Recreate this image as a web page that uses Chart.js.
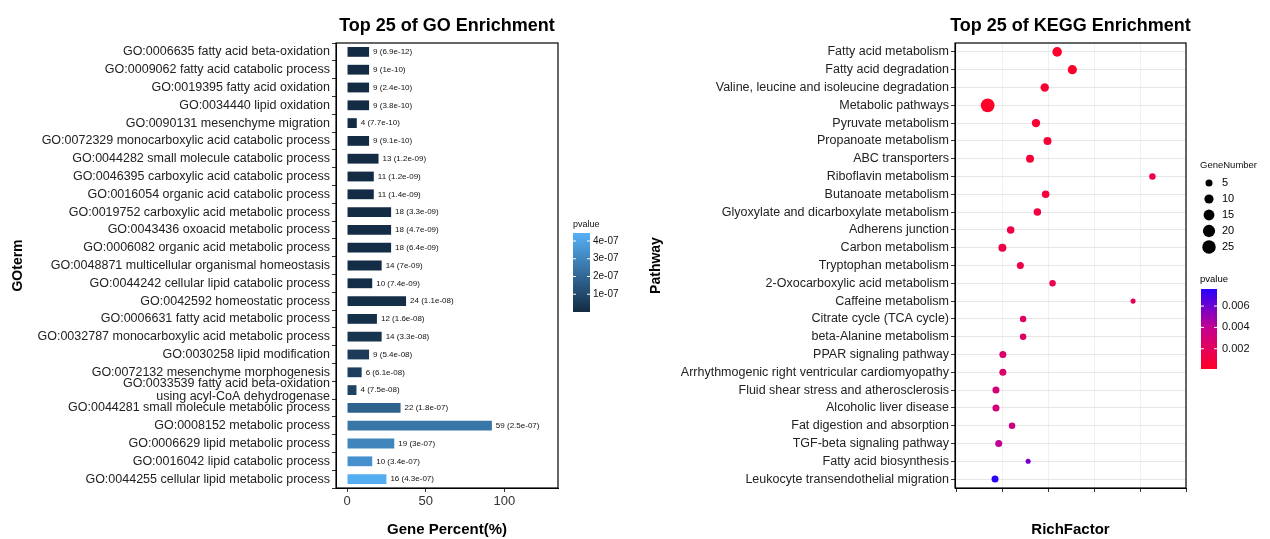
<!DOCTYPE html>
<html>
<head>
<meta charset="utf-8">
<script src="https://cdn.jsdelivr.net/npm/chart.js@4.4.1/dist/chart.umd.min.js"></script>
<style>
  body { margin: 0; background: #fff; }
  #go_wrap { position: absolute; left: 0; top: 0; width: 640px; height: 539px; }
  #kegg_wrap { position: absolute; left: 640px; top: 0; width: 630px; height: 539px; }
</style>
</head>
<body>
<div id="go_wrap"><canvas id="go_chart"></canvas></div>
<div id="kegg_wrap"><canvas id="kegg_chart"></canvas></div>
<script>
// ---- GO data ----
const go_terms = [
  "GO:0006635 fatty acid beta-oxidation",
  "GO:0009062 fatty acid catabolic process",
  "GO:0019395 fatty acid oxidation",
  "GO:0034440 lipid oxidation",
  "GO:0090131 mesenchyme migration",
  "GO:0072329 monocarboxylic acid catabolic process",
  "GO:0044282 small molecule catabolic process",
  "GO:0046395 carboxylic acid catabolic process",
  "GO:0016054 organic acid catabolic process",
  "GO:0019752 carboxylic acid metabolic process",
  "GO:0043436 oxoacid metabolic process",
  "GO:0006082 organic acid metabolic process",
  "GO:0048871 multicellular organismal homeostasis",
  "GO:0044242 cellular lipid catabolic process",
  "GO:0042592 homeostatic process",
  "GO:0006631 fatty acid metabolic process",
  "GO:0032787 monocarboxylic acid metabolic process",
  "GO:0030258 lipid modification",
  "GO:0072132 mesenchyme morphogenesis",
  ["GO:0033539 fatty acid beta-oxidation", "using acyl-CoA dehydrogenase"],
  "GO:0044281 small molecule metabolic process",
  "GO:0008152 metabolic process",
  "GO:0006629 lipid metabolic process",
  "GO:0016042 lipid catabolic process",
  "GO:0044255 cellular lipid metabolic process"
];
const go_percent = [14, 14, 14, 14, 6.2, 14, 20, 17, 17, 28, 28, 28, 22, 16, 37.5, 19, 22, 14, 9.3, 6, 34, 92, 30, 16, 25];
const go_genes = [9, 9, 9, 9, 4, 9, 13, 11, 11, 18, 18, 18, 14, 10, 24, 12, 14, 9, 6, 4, 22, 59, 19, 10, 16];
const go_pvalue_text = ["6.9e-12", "1e-10", "2.4e-10", "3.8e-10", "7.7e-10", "9.1e-10", "1.2e-09", "1.2e-09", "1.4e-09",
  "3.3e-09", "4.7e-09", "6.4e-09", "7e-09", "7.4e-09", "1.1e-08", "1.6e-08", "3.3e-08", "5.4e-08", "6.1e-08", "7.5e-08",
  "1.8e-07", "2.5e-07", "3e-07", "3.4e-07", "4.3e-07"];
const go_pvalue = go_pvalue_text.map(Number);
const go_bar_ticks = ["4e-07", "3e-07", "2e-07", "1e-07"];

// ---- KEGG data ----
const kegg_pathways = [
  "Fatty acid metabolism", "Fatty acid degradation", "Valine, leucine and isoleucine degradation",
  "Metabolic pathways", "Pyruvate metabolism", "Propanoate metabolism", "ABC transporters",
  "Riboflavin metabolism", "Butanoate metabolism", "Glyoxylate and dicarboxylate metabolism",
  "Adherens junction", "Carbon metabolism", "Tryptophan metabolism", "2-Oxocarboxylic acid metabolism",
  "Caffeine metabolism", "Citrate cycle (TCA cycle)", "beta-Alanine metabolism", "PPAR signaling pathway",
  "Arrhythmogenic right ventricular cardiomyopathy", "Fluid shear stress and atherosclerosis",
  "Alcoholic liver disease", "Fat digestion and absorption", "TGF-beta signaling pathway",
  "Fatty acid biosynthesis", "Leukocyte transendothelial migration"
];
const kegg_rich = [0.168, 0.201, 0.141, 0.017, 0.122, 0.147, 0.109, 0.375, 0.143, 0.125, 0.067, 0.049, 0.088,
  0.158, 0.333, 0.094, 0.094, 0.05, 0.05, 0.035, 0.035, 0.07, 0.041, 0.105, 0.033];
const kegg_genes = [11, 10, 8, 26, 8, 7, 7, 4, 6, 6, 6, 7, 5, 4, 2, 4, 4, 5, 5, 5, 5, 4, 5, 2, 5];
const kegg_pvalue = [0.0003, 0.0003, 0.0005, 0.0001, 0.0006, 0.0007, 0.0007, 0.0012, 0.0009, 0.001, 0.0011,
  0.0012, 0.0013, 0.0015, 0.0018, 0.0022, 0.0022, 0.0026, 0.0027, 0.003, 0.0031, 0.0035, 0.004, 0.0058, 0.0075];
const gene_legend = [5, 10, 15, 20, 25];
const pvalue_legend = [0.006, 0.004, 0.002];

const FONT = "'Liberation Sans', Arial, sans-serif";

function mix(c1, c2, t) {
  const r = Math.round(c1[0] + (c2[0] - c1[0]) * t);
  const g = Math.round(c1[1] + (c2[1] - c1[1]) * t);
  const b = Math.round(c1[2] + (c2[2] - c1[2]) * t);
  return `rgb(${r},${g},${b})`;
}
const go_dark = [19, 43, 67], go_light = [86, 177, 247];
const go_pmin = 0, go_pmax = 4.45e-7;
function go_color(p) { return mix(go_dark, go_light, (p - go_pmin) / (go_pmax - go_pmin)); }

const kegg_low = [255, 0, 40], kegg_mid = [200, 0, 140], kegg_high = [40, 0, 255];
const kegg_pmin = 0.0001, kegg_pmax = 0.0076;
function kegg_color(p) {
  const t = Math.min(1, Math.max(0, (p - kegg_pmin) / (kegg_pmax - kegg_pmin)));
  return t < 0.5 ? mix(kegg_low, kegg_mid, t * 2) : mix(kegg_mid, kegg_high, (t - 0.5) * 2);
}
function bubble_r(n) { return 0.9 + Math.sqrt(n) * 1.17; }

// draws the title centered over the plot area plus a black frame
function frame_plugin(title) {
  return {
    id: 'frame',
    afterDraw(chart) {
      const { ctx, chartArea: a } = chart;
      ctx.save();
      ctx.strokeStyle = '#000';
      ctx.lineWidth = 1.2;
      ctx.strokeRect(a.left, a.top, a.right - a.left, a.bottom - a.top);
      ctx.fillStyle = '#000';
      ctx.font = `bold 18px ${FONT}`;
      ctx.textAlign = 'center';
      ctx.textBaseline = 'middle';
      ctx.fillText(title, (a.left + a.right) / 2, 26);
      ctx.restore();
    }
  };
}

// ---- GO chart ----
const go_extra = {
  id: 'go_extra',
  afterDatasetsDraw(chart) {
    const { ctx } = chart;
    const meta = chart.getDatasetMeta(0);
    ctx.save();
    ctx.font = `8px ${FONT}`;
    ctx.fillStyle = '#111';
    ctx.textBaseline = 'middle';
    meta.data.forEach((bar, i) => {
      ctx.fillText(`${go_genes[i]} (${go_pvalue_text[i]})`, bar.x + 4, bar.y);
    });
    // colour bar
    const x0 = 573, y0 = 233, w = 17, h = 79;
    const grad = ctx.createLinearGradient(0, y0 + h, 0, y0);
    grad.addColorStop(0, go_color(go_pmin));
    grad.addColorStop(1, go_color(go_pmax));
    ctx.fillStyle = grad;
    ctx.fillRect(x0, y0, w, h);
    ctx.fillStyle = '#111';
    ctx.font = `9px ${FONT}`;
    ctx.fillText('pvalue', x0, y0 - 8);
    ctx.font = `10px ${FONT}`;
    go_bar_ticks.forEach(t => {
      const y = y0 + h - (Number(t) - go_pmin) / (go_pmax - go_pmin) * h;
      ctx.strokeStyle = '#fff';
      ctx.beginPath(); ctx.moveTo(x0, y); ctx.lineTo(x0 + 3, y); ctx.moveTo(x0 + w - 3, y); ctx.lineTo(x0 + w, y); ctx.stroke();
      ctx.fillText(t, x0 + w + 3, y);
    });
    ctx.restore();
  }
};

new Chart(document.getElementById('go_chart'), {
  type: 'bar',
  data: {
    labels: go_terms,
    datasets: [{
      data: go_percent,
      backgroundColor: go_pvalue.map(go_color),
      barPercentage: 0.55,
      categoryPercentage: 1
    }]
  },
  options: {
    indexAxis: 'y',
    responsive: true,
    maintainAspectRatio: false,
    animation: false,
    layout: { padding: { left: 8, right: 82, top: 43, bottom: 0 } },
    plugins: { legend: { display: false }, tooltip: { enabled: false } },
    scales: {
      x: {
        min: -7, max: 134,
        afterBuildTicks(axis) { axis.ticks = [0, 50, 100].map(v => ({ value: v })); },
        afterFit(axis) { axis.height = 51; },
        grid: { display: true, drawOnChartArea: false, drawTicks: true, tickLength: 4, color: '#333' },
        border: { display: true, color: '#000' },
        ticks: { color: '#333', font: { family: FONT, size: 13 }, padding: 2 },
        title: { display: true, text: 'Gene Percent(%)', color: '#000', font: { family: FONT, size: 15, weight: 'bold' }, padding: 0 }
      },
      y: {
        afterFit(axis) { axis.width = 328; },
        grid: { display: true, drawOnChartArea: false, drawTicks: true, tickLength: 4, color: '#333' },
        border: { display: true, color: '#000' },
        ticks: { color: '#222', font: { family: FONT, size: 12.5, lineHeight: 1.0 }, padding: 2, autoSkip: false },
        title: { display: true, text: 'GOterm', color: '#000', font: { family: FONT, size: 14, weight: 'bold' }, padding: 2 }
      }
    }
  },
  plugins: [frame_plugin('Top 25 of GO Enrichment'), go_extra]
});

// ---- KEGG chart ----
const kegg_extra = {
  id: 'kegg_extra',
  afterDraw(chart) {
    const { ctx } = chart;
    ctx.save();
    ctx.fillStyle = '#111';
    ctx.textBaseline = 'middle';
    ctx.font = `9.5px ${FONT}`;
    const lx = 1202 - 640;
    ctx.fillText('GeneNumber', 1200 - 640, 165);
    gene_legend.forEach((n, i) => {
      const y = 183 + i * 16;
      ctx.fillStyle = '#000';
      ctx.beginPath(); ctx.arc(lx + 7, y, bubble_r(n), 0, Math.PI * 2); ctx.fill();
      ctx.font = `11px ${FONT}`;
      ctx.fillText(String(n), lx + 20, y);
    });
    const x0 = 1201 - 640, y0 = 289, w = 16, h = 80;
    ctx.font = `9.5px ${FONT}`;
    ctx.fillText('pvalue', 1200 - 640, 279);
    const grad = ctx.createLinearGradient(0, y0 + h, 0, y0);
    for (let s = 0; s <= 10; s++) grad.addColorStop(s / 10, kegg_color(kegg_pmin + (kegg_pmax - kegg_pmin) * s / 10));
    ctx.fillStyle = grad;
    ctx.fillRect(x0, y0, w, h);
    ctx.font = `11px ${FONT}`;
    ctx.fillStyle = '#111';
    pvalue_legend.forEach(p => {
      const y = y0 + h - (p - kegg_pmin) / (kegg_pmax - kegg_pmin) * h;
      ctx.strokeStyle = '#fff';
      ctx.beginPath(); ctx.moveTo(x0, y); ctx.lineTo(x0 + 3, y); ctx.moveTo(x0 + w - 3, y); ctx.lineTo(x0 + w, y); ctx.stroke();
      ctx.fillText(p.toFixed(3), x0 + w + 5, y);
    });
    ctx.restore();
  }
};

new Chart(document.getElementById('kegg_chart'), {
  type: 'scatter',
  data: {
    labels: kegg_pathways,
    datasets: [{
      data: kegg_pathways.map((p, i) => ({ x: kegg_rich[i], y: p })),
      backgroundColor: kegg_pvalue.map(kegg_color),
      borderWidth: 0,
      pointRadius: kegg_genes.map(bubble_r)
    }]
  },
  options: {
    responsive: true,
    maintainAspectRatio: false,
    animation: false,
    layout: { padding: { left: 6, right: 84, top: 43, bottom: 0 } },
    plugins: { legend: { display: false }, tooltip: { enabled: false } },
    scales: {
      x: {
        type: 'linear',
        min: -0.054, max: 0.448,
        afterBuildTicks(axis) {
          const t = [];
          for (let k = -1; k <= 9; k++) t.push({ value: k * 0.05 });
          axis.ticks = t;
        },
        afterFit(axis) { axis.height = 51; },
        grid: {
          color: ctx => (ctx.tick && Math.round(ctx.tick.value * 100) % 10 !== 0) ? '#f0f0f0' : '#e3e3e3',
          tickLength: 4, tickColor: '#333'
        },
        border: { display: true, color: '#000' },
        ticks: {
          color: '#333', font: { family: FONT, size: 13 }, padding: 2,
          callback(v) { return Math.round(v * 100) % 10 === 0 && v >= 0 ? v.toFixed(1) : ''; }
        },
        title: { display: true, text: 'RichFactor', color: '#000', font: { family: FONT, size: 15, weight: 'bold' }, padding: 0 }
      },
      y: {
        type: 'category',
        offset: true,
        afterFit(axis) { axis.width = 309; },
        grid: { color: '#e6e6e6', tickLength: 4, tickColor: '#333', offset: false },
        border: { display: true, color: '#000' },
        ticks: { color: '#222', font: { family: FONT, size: 12.5 }, padding: 2, autoSkip: false },
        title: { display: true, text: 'Pathway', color: '#000', font: { family: FONT, size: 14, weight: 'bold' }, padding: 2 }
      }
    }
  },
  plugins: [frame_plugin('Top 25 of KEGG Enrichment'), kegg_extra]
});
</script>
</body>
</html>
